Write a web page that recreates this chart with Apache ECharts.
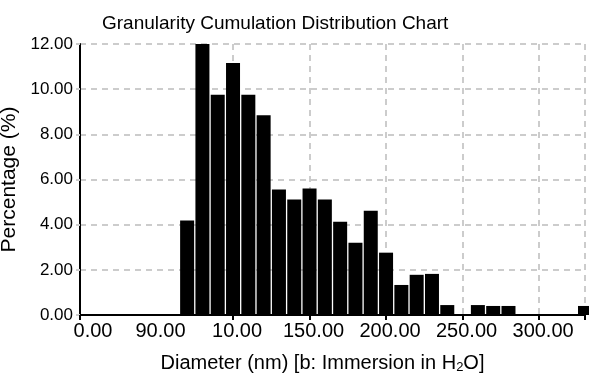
<!DOCTYPE html>
<html>
<head>
<meta charset="utf-8">
<script src="https://cdn.jsdelivr.net/npm/echarts@6/dist/echarts.min.js"></script>
<style>html,body{margin:0;padding:0;background:#fff}#c{width:589px;height:374px}</style>
</head>
<body>
<div id="c"></div>
<script>
var diameters = [70,80,90,100,110,120,130,140,150,160,170,180,190,200,210,220,230,240,250,260,270,280,290,300,310,320,330];
var percentages = [4.18,12.09,9.75,11.16,9.75,8.84,5.56,5.11,5.6,5.11,4.13,3.2,4.62,2.76,1.33,1.78,1.82,0.44,0,0.44,0.4,0.4,0,0,0,0,0.4];
var tickValues = [0,50,100,150,200,250,300];
var tickLabels = ['0.00','90.00','10.00','150.00','200.00','250.00','300.00'];
var tickMarks = [0,100,150,200,250,300,330];

var FONT = '"Liberation Sans", Arial, sans-serif';
var chart = echarts.init(document.getElementById('c'), null, {renderer: 'canvas'});
var data = diameters.map(function (d, i) { return [d, percentages[i]]; });

chart.setOption({
  animation: false,
  backgroundColor: '#fff',
  title: {
    text: 'Granularity Cumulation Distribution Chart',
    left: 97, top: 9,
    textStyle: {fontFamily: FONT, fontSize: 19, fontWeight: 'normal', color: '#000'}
  },
  grid: {left: 80, right: 4, top: 44, bottom: 59, containLabel: false, outerBoundsMode: 'none'},
  xAxis: {
    type: 'value', min: 0, max: 330, interval: 50,
    name: '{a|Diameter (nm) [b: Immersion in H}{s|2}{a|O]}',
    nameLocation: 'middle', nameGap: 38,
    nameTextStyle: {
      padding: [0, 20, 0, 0],
      rich: {
        a: {fontFamily: FONT, fontSize: 20, color: '#000'},
        s: {fontFamily: FONT, fontSize: 13, color: '#000', verticalAlign: 'bottom', padding: [8, 0, 0, 0]}
      }
    },
    axisLine: {show: true, onZero: false, lineStyle: {color: '#000', width: 2}},
    axisTick: {show: true, customValues: tickMarks, length: 5, lineStyle: {color: '#000', width: 2}},
    axisLabel: {
      customValues: tickValues,
      formatter: function (v) {
        var i = tickValues.indexOf(v);
        if (i < 0) return '';
        return (i === 0 ? '{f|' : '{t|') + tickLabels[i] + '}';
      },
      rich: {
        f: {fontFamily: FONT, fontSize: 20, color: '#000', padding: [0, 0, 0, 26]},
        t: {fontFamily: FONT, fontSize: 20, color: '#000', padding: [0, 0, 0, 8]}
      },
      fontFamily: FONT, fontSize: 20, color: '#000', margin: 6
    },
    splitLine: {show: true, lineStyle: {color: '#cccccc', type: [6, 5], width: 2}}
  },
  yAxis: {
    type: 'value', min: 0, max: 12, interval: 2,
    name: 'Percentage (%)',
    nameLocation: 'middle', nameGap: 48, nameRotate: 90,
    nameTextStyle: {fontFamily: FONT, fontSize: 21, color: '#000'},
    axisLine: {show: true, lineStyle: {color: '#000', width: 2}},
    axisTick: {show: true, length: 4, lineStyle: {color: '#cccccc', width: 2}},
    axisLabel: {
      formatter: function (v) { return v.toFixed(2); },
      fontFamily: FONT, fontSize: 17, color: '#000', margin: 7
    },
    splitLine: {show: true, lineStyle: {color: '#cccccc', type: [6, 5], width: 2}}
  },
  series: [{
    type: 'bar',
    data: data,
    barWidth: 14,
    clip: true,
    itemStyle: {color: '#000'}
  }]
});
</script>
</body>
</html>
